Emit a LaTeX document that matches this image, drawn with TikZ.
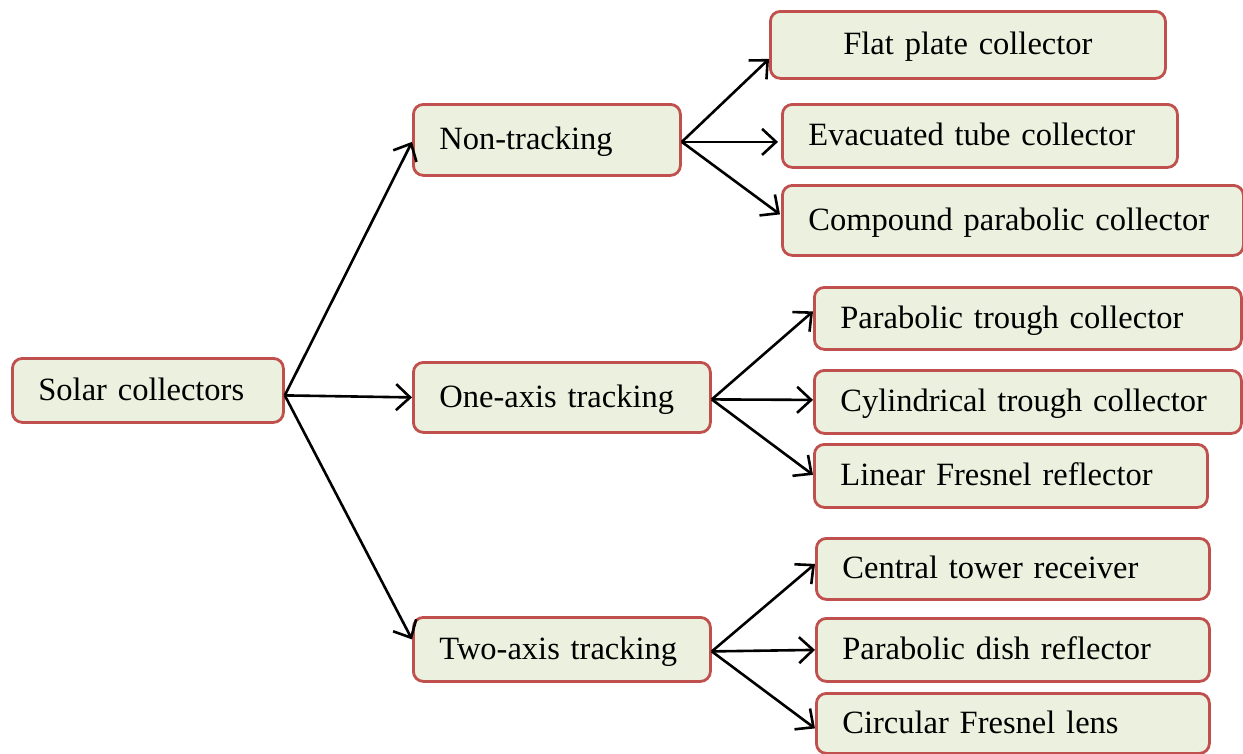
\documentclass[tikz,border=0pt]{standalone}
\usepackage{fontspec}
\setmainfont{Liberation Serif}
\usetikzlibrary{arrows.meta,calc}
\definecolor{boxfill}{HTML}{EBF1DE}
\definecolor{boxline}{HTML}{C0504D}
\tikzset{
  box/.style={draw=boxline, fill=boxfill, line width=2.8pt, rounded corners=10pt,
    anchor=north west, inner xsep=26pt, inner ysep=0pt, align=left,
    text height=24pt, text depth=4pt,
    font=\fontsize{32.5}{38}\selectfont},
  conn/.style={line width=2.6pt, -{Straight Barb[length=14pt,width=26pt,line width=2.6pt]}}
}
\begin{document}
\begin{tikzpicture}[x=1pt,y=-1pt]
\useasboundingbox (0,0) rectangle (1243,753);
% level 0
\node[box, text width=219pt, minimum height=64pt] (solar) at (11,357) {Solar collectors};
% level 1
\node[box, text width=215pt, minimum height=71pt] (non) at (412,103) {Non-tracking};
\node[box, text width=245pt, minimum height=70pt] (one) at (412,361) {One-axis tracking};
\node[box, text width=245pt, minimum height=64pt] (two) at (412,616) {Two-axis tracking};
% level 2
\node[box, text width=343pt, minimum height=67pt, align=center] (flat) at (769,10) {Flat plate collector};
\node[box, text width=343pt, minimum height=63pt] (evac) at (781,103) {Evacuated tube collector};
\node[box, text width=409pt, minimum height=70pt] (cpc) at (781,184) {Compound parabolic collector};
\node[box, text width=375pt, minimum height=62pt] (ptc) at (813,286) {Parabolic trough collector};
\node[box, text width=375pt, minimum height=63pt] (ctc) at (813,369) {Cylindrical trough collector};
\node[box, text width=341pt, minimum height=63pt] (lfr) at (813,443) {Linear Fresnel reflector};
\node[box, text width=341pt, minimum height=61pt] (ctr) at (815,537) {Central tower receiver};
\node[box, text width=341pt, minimum height=63pt] (pdr) at (815,617) {Parabolic dish reflector};
\node[box, text width=341pt, minimum height=60pt] (cfl) at (815,692) {Circular Fresnel lens};
% connectors
\coordinate (s0) at ($(solar.east)+(0,5)$);
\draw[conn] (s0) -- ($(non.west)+(0,2)$);
\draw[conn] (s0) -- (one.west);
\draw[conn] (s0) -- ($(two.west)+(0,-10)$);
\coordinate (n0) at ($(non.east)+(0,2)$);
\draw[conn] (n0) -- ($(flat.west)+(0,14)$);
\draw[conn] (n0) -- ($(evac.west)+(-3,6)$);
\draw[conn] (n0) -- ($(cpc.west)+(-1,-6)$);
\coordinate (o0) at ($(one.east)+(0,2)$);
\draw[conn] (o0) -- ($(ptc.west)+(0,-7)$);
\draw[conn] (o0) -- ($(ctc.west)+(0,-2)$);
\draw[conn] (o0) -- ($(lfr.west)+(0,-1)$);
\coordinate (t0) at ($(two.east)+(0,2)$);
\draw[conn] (t0) -- ($(ctr.west)+(0,-5)$);
\draw[conn] (t0) -- (pdr.west);
\draw[conn] (t0) -- ($(cfl.west)+(0,5)$);
\end{tikzpicture}
\end{document}
